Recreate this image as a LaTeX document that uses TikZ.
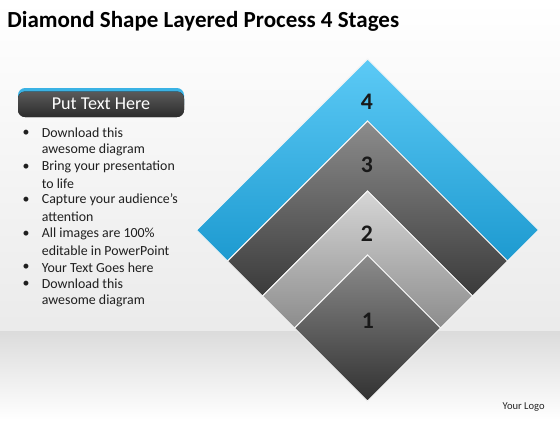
\documentclass[tikz,border=0pt]{standalone}
\usepackage{fontspec}
\setmainfont{Carlito}
\usetikzlibrary{positioning}
\definecolor{skyblue}{HTML}{5CCAF6}
\definecolor{deepblue}{HTML}{1D9AD0}
\definecolor{darktop}{HTML}{8C8C8C}
\definecolor{darkbot}{HTML}{3A3A3A}
\definecolor{lighttop}{HTML}{D6D6D6}
\definecolor{lightbot}{HTML}{8C8C8C}
\definecolor{bartop}{HTML}{5A5A5A}
\definecolor{barbot}{HTML}{2C2C2C}
\definecolor{barblue}{HTML}{3AB2E4}
\tikzset{
    band/.style={draw=white!92!gray, line width=0.6pt},
    stage/.style={font=\fontsize{13.5}{15}\selectfont\bfseries, text=black!90},
    item/.style={anchor=west, inner sep=0pt, font=\fontsize{7.9}{9.5}\selectfont, text=black!88},
    dot/.style={inner sep=0pt, font=\fontsize{7.9}{9.5}\selectfont, text=black!88}
}
\begin{document}
\begin{tikzpicture}[x=0.02cm, y=-0.02cm]
    \useasboundingbox (0,0) rectangle (560,420);
    % background
    \fill[top color=white, bottom color=black!8] (0,0) rectangle (560,331);
    \fill[top color=black!14, bottom color=white] (0,331) rectangle (560,420);

    % title
    \node[anchor=base west, inner sep=0pt, font=\fontsize{13.1}{15}\selectfont\bfseries] (title) at (7,27) {Diamond Shape Layered Process 4 Stages};

    % layered diamond
    \draw[band, top color=skyblue, bottom color=deepblue]
        (196.5,230) -- (367.5,59) -- (538.5,230) -- (507.5,261) -- (367.5,121) -- (227.5,261) -- cycle;
    \draw[band, top color=darktop, bottom color=darkbot]
        (227.5,261) -- (367.5,121) -- (507.5,261) -- (472.5,296) -- (367.5,191) -- (262.5,296) -- cycle;
    \draw[band, top color=lighttop, bottom color=lightbot]
        (262.5,296) -- (367.5,191) -- (472.5,296) -- (440.5,328) -- (367.5,255) -- (294.5,328) -- cycle;
    \draw[band, top color=darktop, bottom color=darkbot!85!black]
        (294.5,328) -- (367.5,255) -- (440.5,328) -- (367.5,401) -- cycle;
    \node[stage] (n4) at (367,102) {4};
    \node[stage] (n3) at (367,165) {3};
    \node[stage] (n2) at (367,234) {2};
    \node[stage] (n1) at (368,321) {1};

    % text panel
    \fill[barblue, rounded corners=4pt] (18,88) rectangle (184,112);
    \fill[top color=bartop, bottom color=barbot, rounded corners=4pt] (18,91.5) rectangle (184,117);
    \node[text=white, font=\fontsize{10.3}{12}\selectfont] (head) at (101,104) {Put Text Here};

    \node[dot] (b1) at (26,133) {\textbullet};
    \node[item] (t1) at (41.5,133) {Download this};
    \node[item] (t1b) at (41.5,150) {awesome diagram};
    \node[dot] (b2) at (26,167) {\textbullet};
    \node[item] (t2) at (41.5,167) {Bring your presentation};
    \node[item] (t2b) at (41.5,183.5) {to life};
    \node[dot] (b3) at (26,200) {\textbullet};
    \node[item] (t3) at (41.5,200) {Capture your audience’s};
    \node[item] (t3b) at (41.5,216.5) {attention};
    \node[dot] (b4) at (26,234) {\textbullet};
    \node[item] (t4) at (41.5,234) {All images are 100\%};
    \node[item] (t4b) at (41.5,250.5) {editable in PowerPoint};
    \node[dot] (b5) at (26,267.5) {\textbullet};
    \node[item] (t5) at (41.5,267.5) {Your Text Goes here};
    \node[dot] (b6) at (26,284) {\textbullet};
    \node[item] (t6) at (41.5,284) {Download this};
    \node[item] (t6b) at (41.5,300.5) {awesome diagram};

    % logo
    \node[anchor=east, inner sep=0pt, font=\fontsize{6}{7}\selectfont, text=black!85] (logo) at (545,407.5) {Your Logo};
\end{tikzpicture}
\end{document}
